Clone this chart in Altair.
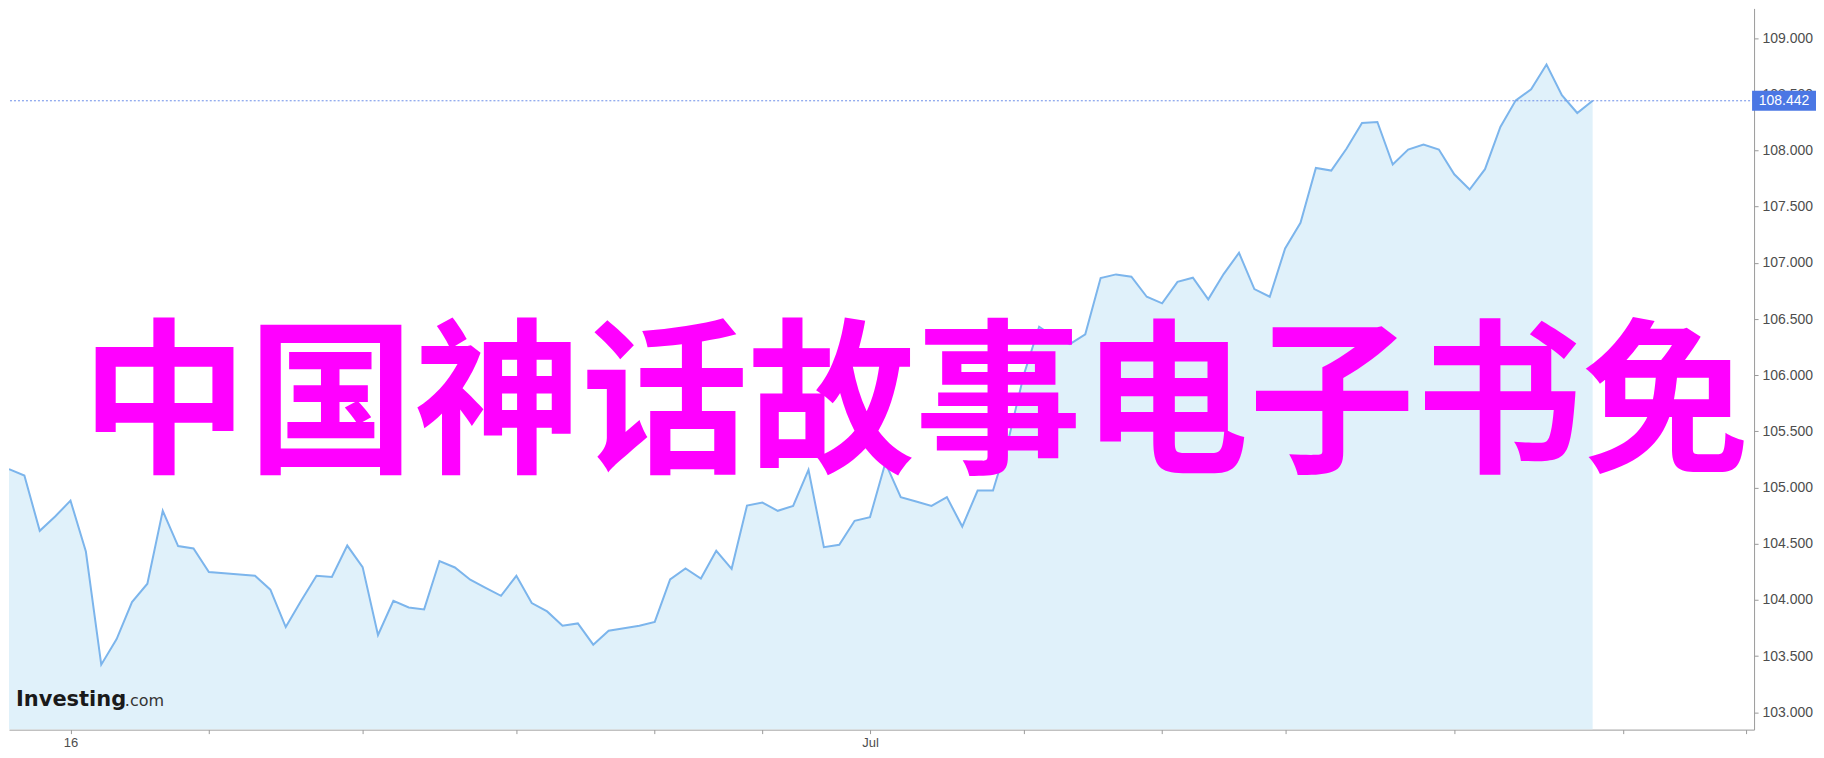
import altair as alt
import pandas as pd

# ---- data ----
prices = [
    105.164, 105.107, 104.615, 104.742, 104.884, 104.431, 103.424, 103.652, 103.981, 104.144,
    104.793, 104.479, 104.458, 104.248, 104.237, 104.226, 104.215, 104.091, 103.759, 103.993,
    104.215, 104.204, 104.484, 104.292, 103.688, 103.993, 103.933, 103.916, 104.346, 104.289,
    104.180, 104.108, 104.037, 104.215, 103.972, 103.898, 103.771, 103.791, 103.602, 103.726,
    103.748, 103.771, 103.804, 104.182, 104.280, 104.191, 104.437, 104.277, 104.840, 104.867,
    104.793, 104.837, 105.157, 104.470, 104.491, 104.704, 104.737, 105.220, 104.915, 104.876,
    104.837, 104.915, 104.653, 104.973, 104.973, 105.424, 106.002, 106.431, 106.340, 106.277,
    106.364, 106.864, 106.897, 106.876, 106.698, 106.639, 106.831, 106.867, 106.675, 106.900,
    107.089, 106.766, 106.698, 107.128, 107.356, 107.844, 107.821, 108.017, 108.244, 108.253,
    107.875, 108.008, 108.052, 108.008, 107.788, 107.652, 107.833, 108.209, 108.446, 108.544,
    108.764, 108.491, 108.333, 108.442,
]
bar_index = list(range(len(prices)))
x_tick_index = [4, 13, 23, 33, 42, 49, 56, 66, 75, 83, 94, 105, 113]
x_tick_labels = {4: "16", 56: "Jul"}
y_ticks = [103.0, 103.5, 104.0, 104.5, 105.0, 105.5, 106.0, 106.5, 107.0, 107.5, 108.0, 108.5, 109.0]
last_price = 108.442
overlay_text = "中国神话故事电子书免"
logo_main = "Investing"
logo_suffix = ".com"

x_domain = [0, 113.5]
y_domain = [102.846, 109.264]

W, H = 1747, 722

df = pd.DataFrame({"i": bar_index, "p": prices})

label_expr = " : ".join(
    [f"datum.value == {k} ? '{v}'" for k, v in x_tick_labels.items()]
) + " : ''"

xs = alt.Scale(domain=x_domain, nice=False, zero=False)
ys = alt.Scale(domain=y_domain, nice=False, zero=False)

x_enc = alt.X(
    "i:Q",
    scale=xs,
    axis=alt.Axis(
        values=x_tick_index,
        labelExpr=label_expr,
        title=None,
        grid=False,
        domainColor="#9a9a9a",
        tickColor="#9a9a9a",
        tickSize=4,
        labelPadding=3,
        labelFontSize=13,
        labelFont="Liberation Sans",
        labelColor="#4d4d4d",
        labelFlush=False,
        labelOverlap=False,
    ),
)
y_enc = alt.Y(
    "p:Q",
    scale=ys,
    axis=alt.Axis(
        orient="right",
        values=y_ticks,
        format=".3f",
        title=None,
        grid=False,
        domainColor="#9a9a9a",
        tickColor="#9a9a9a",
        tickSize=4,
        labelPadding=4,
        labelFontSize=14,
        labelFont="Liberation Sans",
        labelColor="#4d4d4d",
        labelOverlap=False,
        labelFlush=False,
    ),
)

base = alt.Chart(df)

area = base.mark_area(color="#e0f1fa", clip=True).encode(
    x=x_enc, y=y_enc, y2=alt.datum(y_domain[0])
)
line = base.mark_line(color="#7cb5ec", strokeWidth=2, clip=True).encode(
    x=alt.X("i:Q", scale=xs), y=alt.Y("p:Q", scale=ys)
)

one = pd.DataFrame({"v": [last_price]})

rule = alt.Chart(one).mark_rule(color="#6b8ee8", strokeDash=[2, 2], strokeWidth=1).encode(
    y=alt.Y("v:Q", scale=ys)
)

overlay = alt.Chart(one).mark_text(
    text=overlay_text,
    font="Noto Sans CJK SC",
    fontWeight="bold",
    fontSize=167,
    color="#ff00ff",
    align="center",
    baseline="alphabetic",
).encode(x=alt.value(907), y=alt.value(452))

logo1 = alt.Chart(one).mark_text(
    text=logo_main,
    font="DejaVu Sans",
    fontWeight="bold",
    fontSize=21,
    color="#1a1a1a",
    align="left",
    baseline="alphabetic",
).encode(x=alt.value(7), y=alt.value(698))

logo2 = alt.Chart(one).mark_text(
    text=logo_suffix,
    font="DejaVu Sans",
    fontSize=16,
    color="#333333",
    align="left",
    baseline="alphabetic",
).encode(x=alt.value(116), y=alt.value(698))

box = alt.Chart(one).mark_rect(color="#4b77e4", yOffset=-10, y2Offset=10).encode(
    x=alt.value(W - 2),
    x2=alt.value(W + 62),
    y=alt.Y("v:Q", scale=ys),
    y2=alt.Y2("v:Q"),
)
box_text = alt.Chart(one).mark_text(
    font="Liberation Sans",
    fontSize=14,
    color="white",
    align="center",
    baseline="middle",
).encode(
    x=alt.value(W + 30),
    y=alt.Y("v:Q", scale=ys),
    text=alt.Text("v:Q", format=".3f"),
)

chart = (
    alt.layer(area, line, rule, overlay, logo1, logo2, box, box_text)
    .properties(width=W, height=H, padding=0, background="white")
    .configure_view(stroke=None)
)

chart.save("out.html", embed_options={"renderer": "svg", "actions": False})
